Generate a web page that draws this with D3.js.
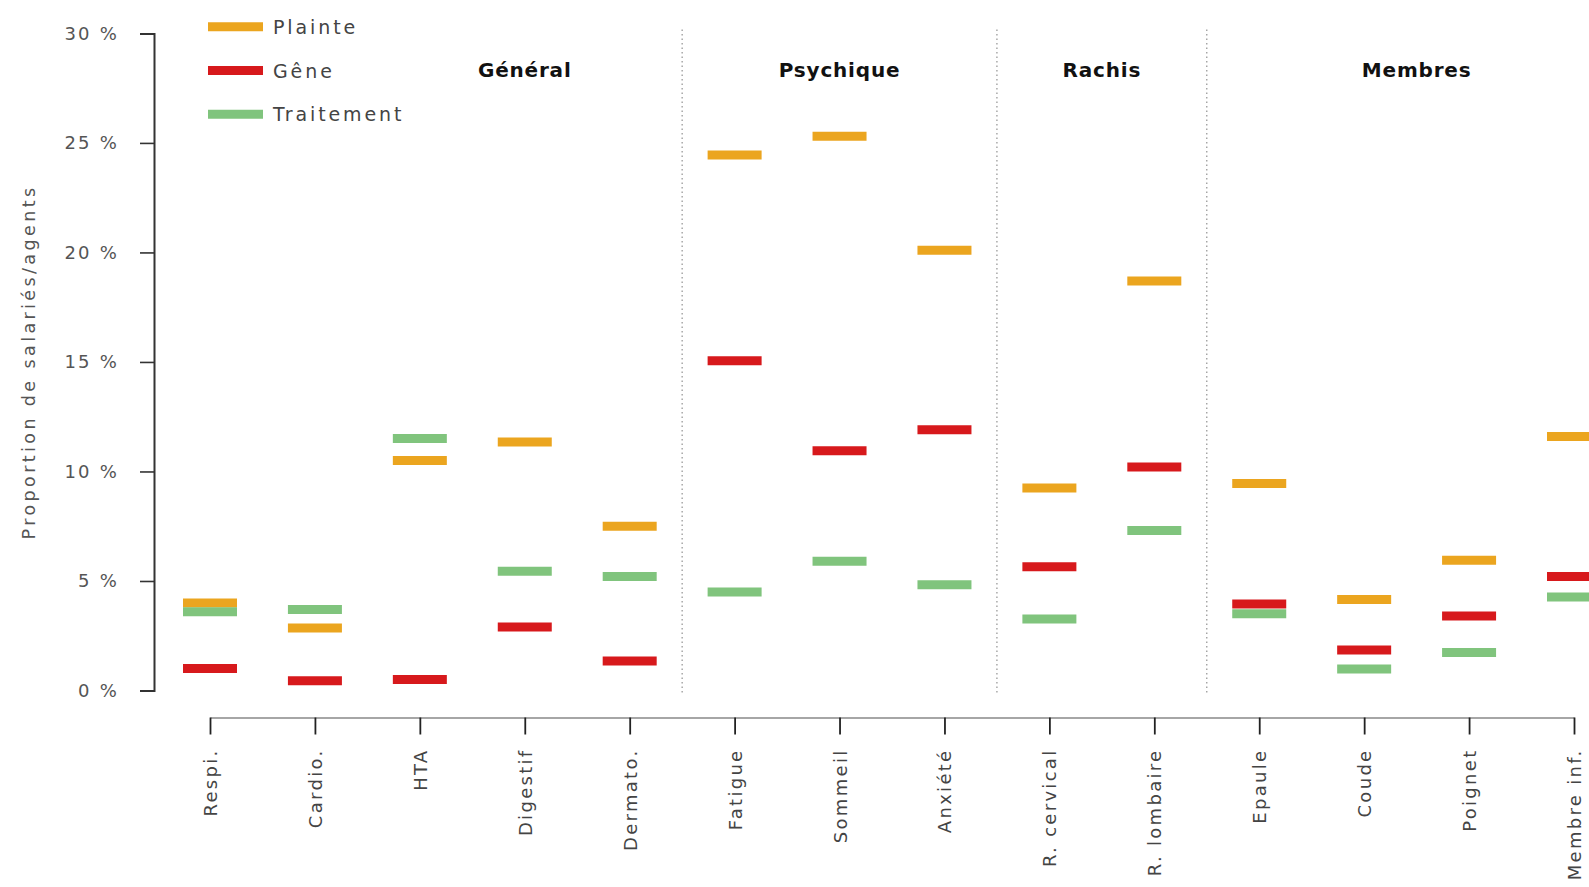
<!DOCTYPE html>
<html>
<head>
<meta charset="utf-8">
<script src="https://cdn.jsdelivr.net/npm/d3@7"></script>
<style>
  html, body { margin: 0; padding: 0; background: #fff; }
  svg { display: block; }
  text { font-family: "DejaVu Sans", sans-serif; }
</style>
</head>
<body>
<svg id="chart" width="1589" height="887"></svg>
<script>
const categories = ["Respi.", "Cardio.", "HTA", "Digestif", "Dermato.", "Fatigue", "Sommeil", "Anxiété",
  "R. cervical", "R. lombaire", "Epaule", "Coude", "Poignet", "Membre inf."];
const plainte    = [4.0, 2.85, 10.5, 11.35, 7.5, 24.45, 25.3, 20.1, 9.25, 18.7, 9.45, 4.15, 5.95, 11.6];
const gene       = [1.0, 0.45, 0.5, 2.9, 1.35, 15.05, 10.95, 11.9, 5.65, 10.2, 3.95, 1.85, 3.4, 5.2];
const traitement = [3.6, 3.7, 11.5, 5.45, 5.2, 4.5, 5.9, 4.83, 3.27, 7.3, 3.5, 0.98, 1.73, 4.27];
const seriesNames = ["Plainte", "Gêne", "Traitement"];
const yTicks = [0, 5, 10, 15, 20, 25, 30];
const groupNames = ["Général", "Psychique", "Rachis", "Membres"];
const groupFirst = ["Respi.", "Fatigue", "R. cervical", "Epaule"];
const groupLast  = ["Dermato.", "Anxiété", "R. lombaire", "Membre inf."];
const yTitle = "Proportion de salariés/agents";

const colors = ["#eba51f", "#d7191c", "#80c47d"];
const seriesValues = [plainte, gene, traitement];

const svg = d3.select("#chart");
const x = d3.scalePoint().domain(categories).range([210, 1574]).padding(0);
const y = d3.scaleLinear().domain([0, 30]).range([690.5, 33.4]);
const markW = 54, markH = 9;

// group dividers
for (let g = 1; g < groupNames.length; g++) {
  const xd = (x(groupLast[g - 1]) + x(groupFirst[g])) / 2;
  svg.append("line")
    .attr("x1", xd).attr("x2", xd)
    .attr("y1", y(30) - 4).attr("y2", y(0) + 2)
    .attr("stroke", "#9a9a9a").attr("stroke-width", 1.3)
    .attr("stroke-dasharray", "1.5,3");
}

// group labels
const labelAnchor = g => g === 0 ? x("Digestif") : (x(groupFirst[g]) + x(groupLast[g])) / 2;
groupNames.forEach((name, g) => {
  svg.append("text")
    .attr("x", labelAnchor(g)).attr("y", 70)
    .attr("text-anchor", "middle").attr("dominant-baseline", "central")
    .attr("font-weight", "bold").attr("font-size", 20)
    .attr("letter-spacing", 0.8)
    .attr("fill", "#111").text(name);
});

// y axis
const yAxis = svg.append("g").attr("transform", "translate(154,0)")
  .call(d3.axisLeft(y).tickValues(yTicks).tickSize(14).tickPadding(21).tickFormat(d => d + " %"));
yAxis.select(".domain").attr("stroke", "#333").attr("stroke-width", 2);
yAxis.selectAll(".tick line").attr("stroke", "#333").attr("stroke-width", 1.6);
yAxis.selectAll(".tick text").attr("font-size", 18).attr("fill", "#555")
  .attr("letter-spacing", 2.2).attr("font-family", "DejaVu Sans, sans-serif");

// y title
svg.append("text")
  .attr("transform", `translate(29,${362}) rotate(-90)`)
  .attr("text-anchor", "middle").attr("dominant-baseline", "central")
  .attr("font-size", 17.5).attr("letter-spacing", 3.4).attr("fill", "#555")
  .text(yTitle);

// x axis
const xAxis = svg.append("g").attr("transform", "translate(0,717.5)")
  .call(d3.axisBottom(x).tickSize(17).tickPadding(0).tickSizeOuter(0));
xAxis.select(".domain").attr("stroke", "#888").attr("stroke-width", 1.6);
xAxis.selectAll(".tick line").attr("stroke", "#222").attr("stroke-width", 1.8);
xAxis.selectAll(".tick text")
  .attr("font-size", 18).attr("fill", "#444").attr("letter-spacing", 2.3)
  .attr("font-family", "DejaVu Sans, sans-serif")
  .attr("text-anchor", "end").attr("dominant-baseline", "central")
  .attr("transform", "rotate(-90)")
  .attr("x", -31).attr("y", 0).attr("dy", null);

// markers
seriesValues.forEach((vals, s) => {
  svg.append("g").selectAll("line")
    .data(categories.map((c, i) => ({ c, v: vals[i] })))
    .join("line")
    .attr("x1", d => x(d.c) - markW / 2).attr("x2", d => x(d.c) + markW / 2)
    .attr("y1", d => y(d.v)).attr("y2", d => y(d.v))
    .attr("stroke", colors[s]).attr("stroke-width", markH);
});

// legend
seriesNames.forEach((name, s) => {
  const ly = 26.7 + s * 43.8;
  svg.append("line").attr("x1", 208).attr("x2", 263).attr("y1", ly).attr("y2", ly)
    .attr("stroke", colors[s]).attr("stroke-width", markH);
  svg.append("text").attr("x", 273).attr("y", ly)
    .attr("dominant-baseline", "central").attr("font-size", 19)
    .attr("letter-spacing", 2.9).attr("fill", "#444").text(name);
});
</script>
</body>
</html>
